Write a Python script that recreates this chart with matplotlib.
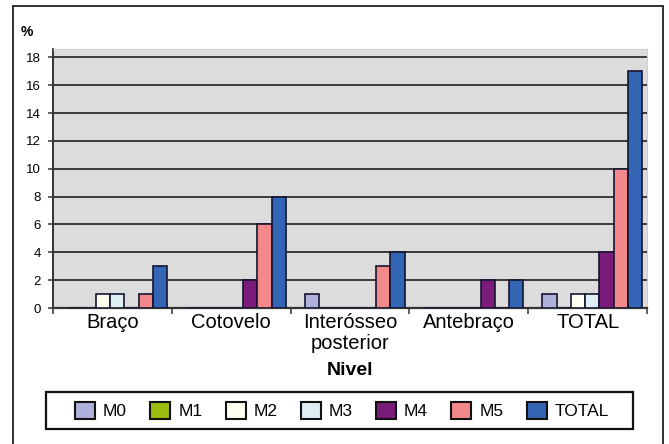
import numpy as np
import matplotlib
matplotlib.use('Agg')
import matplotlib.pyplot as plt
from matplotlib.patches import Rectangle, Patch

plt.rcParams['font.family'] = ['Liberation Sans', 'DejaVu Sans']

# data (% per level and muscle grade)
niveis = ['Braço', 'Cotovelo', 'Interósseo\nposterior', 'Antebraço', 'TOTAL']
series = ['M0', 'M1', 'M2', 'M3', 'M4', 'M5', 'TOTAL']
m0 = [0, 0, 1, 0, 1]
m1 = [0, 0, 0, 0, 0]
m2 = [1, 0, 0, 0, 1]
m3 = [1, 0, 0, 0, 1]
m4 = [0, 2, 0, 2, 4]
m5 = [1, 6, 3, 0, 10]
total = [3, 8, 4, 2, 17]
yticks = [0, 2, 4, 6, 8, 10, 12, 14, 16, 18]

cores = ['#b0b0dc', '#9bbb10', '#fffff0', '#ddeef4', '#7a1a7a', '#f4898b', '#3465b5']
valores = [m0, m1, m2, m3, m4, m5, total]

W, H = 669, 444
fig = plt.figure(figsize=(W / 100, H / 100), dpi=100)
fig.patch.set_facecolor('white')

# outer frame (bottom edge runs off the picture)
fig.patches.append(Rectangle((13 / W, -0.05), 650 / W, 1.05 - 6 / H, transform=fig.transFigure,
                             fill=False, edgecolor='#222222', linewidth=1.3))

ax = fig.add_axes([53 / W, 1 - 308 / H, 594 / W, 259 / H])
ax.set_facecolor('#dcdcdc')

x = np.arange(len(niveis))
bw = 0.12
for i, (nome, vals, cor) in enumerate(zip(series, valores, cores)):
    ax.bar(x + (i - 3) * bw + 0.04, vals, width=bw, color=cor, edgecolor='#141430',
           linewidth=1.2, label=nome, zorder=3)

ax.set_xlim(-0.5, len(niveis) - 0.5)
ax.set_ylim(0, 18.6)
ax.set_yticks(yticks)
ax.tick_params(axis='y', labelsize=9.5, length=3.6, width=1.2, color='#444444', pad=5)
ax.yaxis.grid(True, color='#3a3a3a', linewidth=1.4, zorder=1)
ax.set_axisbelow(True)

ax.set_xticks(x)
ax.set_xticklabels(niveis, fontsize=14.5, linespacing=1.15)
ax.tick_params(axis='x', length=0, pad=3.5)
ax.set_xticks(np.arange(len(niveis) + 1) - 0.5, minor=True)
ax.tick_params(axis='x', which='minor', length=4, width=1.2, color='#444444')

for s in ['top', 'right']:
    ax.spines[s].set_color('#cfcfcf')
ax.spines['left'].set_color('#333333')
ax.spines['left'].set_linewidth(1.4)
ax.spines['bottom'].set_color('#333333')
ax.spines['bottom'].set_linewidth(1.6)

fig.text(350 / W, 1 - 370 / H, 'Nivel', fontsize=14, fontweight='bold', ha='center', va='center')
fig.text(27 / W, 1 - 32 / H, '%', fontsize=10, fontweight='bold', ha='center', va='center')

# legend box drawn separately so its width matches the original
fig.patches.append(Rectangle((46 / W, 1 - 429 / H), 587 / W, 37 / H, transform=fig.transFigure,
                             fill=False, edgecolor='#111111', linewidth=1.6))
handles = [Patch(facecolor=c, edgecolor='#111111', linewidth=1.5, label=n) for n, c in zip(series, cores)]
fig.legend(handles=handles, loc='center', bbox_to_anchor=(342 / W, 1 - 410.5 / H),
           ncol=7, fontsize=12.5, frameon=False, handlelength=1.15, handleheight=1.15,
           handletextpad=0.45, columnspacing=1.35, borderpad=0, borderaxespad=0)

fig.savefig('out.png', dpi=100)
